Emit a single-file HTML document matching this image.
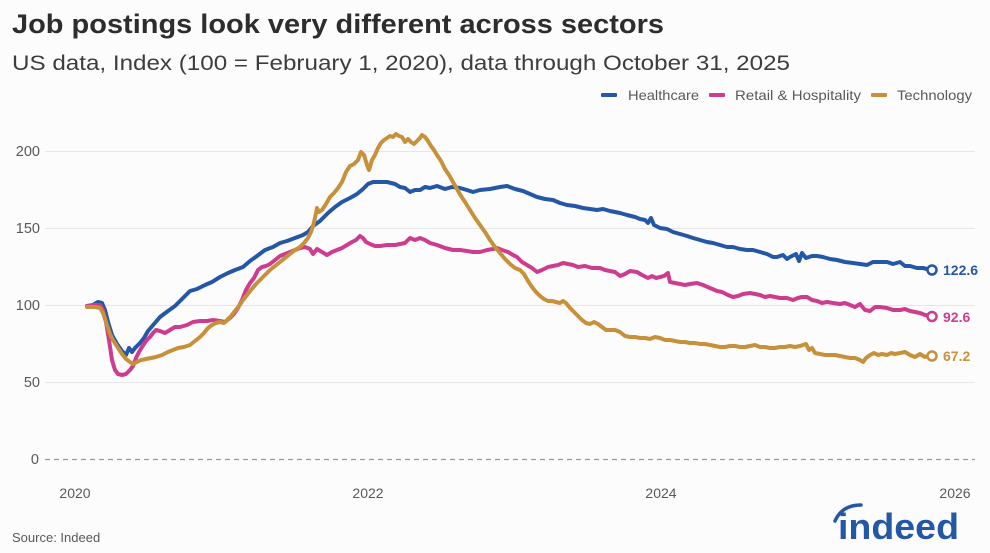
<!DOCTYPE html>
<html><head><meta charset="utf-8"><style>
html,body{margin:0;padding:0;background:#fcfcfc;}
svg{display:block;}
text{font-family:"Liberation Sans",Arial,sans-serif;}
</style></head><body>
<svg width="990" height="553" viewBox="0 0 990 553" xmlns="http://www.w3.org/2000/svg">
<rect width="990" height="553" fill="#fcfcfc"/>
<text x="12" y="33" font-size="27" font-weight="bold" fill="#2d2d2d" textLength="652" lengthAdjust="spacingAndGlyphs">Job postings look very different across sectors</text>
<text x="12" y="70" font-size="21" fill="#3d3d3d" textLength="778" lengthAdjust="spacingAndGlyphs">US data, Index (100 = February 1, 2020), data through October 31, 2025</text>

<!-- legend -->
<rect x="601" y="93" width="16" height="4" rx="1" fill="#2557a7"/>
<text x="628" y="100" font-size="14" fill="#595959" textLength="71" lengthAdjust="spacingAndGlyphs">Healthcare</text>
<rect x="709" y="93" width="16" height="4" rx="1" fill="#cd3d8f"/>
<text x="735" y="100" font-size="14" fill="#595959" textLength="126" lengthAdjust="spacingAndGlyphs">Retail &amp; Hospitality</text>
<rect x="871" y="93" width="16" height="4" rx="1" fill="#c7913b"/>
<text x="897" y="100" font-size="14" fill="#595959" textLength="75" lengthAdjust="spacingAndGlyphs">Technology</text>

<!-- grid -->
<g stroke="#e6e6e6" stroke-width="1">
<line x1="45" y1="151.5" x2="975" y2="151.5"/>
<line x1="45" y1="228.5" x2="975" y2="228.5"/>
<line x1="45" y1="305.5" x2="975" y2="305.5"/>
<line x1="45" y1="382.5" x2="975" y2="382.5"/>
</g>
<line x1="45" y1="459.5" x2="975" y2="459.5" stroke="#9a9a9a" stroke-width="1.2" stroke-dasharray="5 4"/>

<g font-size="14.5" fill="#595959" text-anchor="end">
<text x="40" y="156">200</text>
<text x="40" y="233">150</text>
<text x="40" y="310">100</text>
<text x="40" y="387">50</text>
<text x="39" y="464">0</text>
</g>
<g font-size="14" fill="#595959" text-anchor="middle">
<text x="75" y="498">2020</text>
<text x="368" y="498">2022</text>
<text x="661" y="498">2024</text>
<text x="955" y="498">2026</text>
</g>

<g fill="none" stroke-width="4" stroke-linejoin="round" stroke-linecap="round">
<polyline stroke="#2557a7" points="87,306 93,305 98,302 102,303 105,310 108,322 112,335 117,344 122,351 126,355 129,348 132,352 135,348 140,343 144,338 148,331 154,324 160,317 168,311 175,306 183,298 190,291 197,289 205,285 212,282 220,277 228,273 235,270 243,267 250,261 257,256 265,250 273,247 280,243 287,241 295,238 303,235 308,232 313,226 320,221 328,213 335,207 342,202 350,198 357,194 363,189 368,184 373,182 380,182 387,182 395,184 400,187 405,188 410,192 415,190 420,190 425,187 430,188 437,186 445,189 452,187 460,188 467,190 473,192 480,190 490,189 500,187 507,186 515,189 523,191 530,194 537,197 545,199 553,200 560,203 567,205 575,206 583,208 590,209 597,210 603,209 610,211 620,213 627,215 635,217 640,219 645,220 648,223 651,218 654,225 660,228 667,229 673,232 680,234 687,236 693,238 700,240 707,242 713,243 720,245 727,247 733,247 740,249 747,250 753,250 760,252 767,254 773,257 777,257 783,255 787,259 790,257 796,254 799,261 802,253 806,258 812,256 817,256 823,257 830,259 837,260 845,262 853,263 860,264 867,265 873,262 880,262 887,262 893,264 900,262 905,266 910,266 917,268 923,268 927,269 932,270"/>
<polyline stroke="#cd3d8f" points="87,306 95,305 100,305 103,310 106,322 109,340 112,360 115,370 118,374 122,375 126,374 130,370 133,366 136,358 139,352 142,347 146,341 150,337 153,333 156,330 160,331 165,333 170,330 175,327 180,327 187,325 193,322 200,321 207,321 213,320 220,321 225,322 230,318 234,314 238,308 242,300 246,290 250,283 254,278 258,270 262,267 266,266 270,264 275,260 280,256 285,254 290,252 295,250 300,248 305,247 310,249 313,254 317,249 322,252 327,255 332,252 337,250 342,248 347,245 352,242 356,240 360,236 363,238 366,242 370,244 375,246 380,246 387,245 395,245 400,244 405,243 410,238 415,240 420,238 425,240 430,243 437,245 445,248 453,250 460,250 467,251 473,252 480,252 487,250 493,249 497,248 502,250 508,252 513,255 517,257 522,262 527,265 532,268 537,272 542,270 548,267 553,266 558,265 563,263 568,264 573,265 578,267 585,266 592,268 600,268 605,270 610,271 615,272 620,276 625,274 630,271 637,272 642,275 648,278 652,276 656,278 660,277 664,276 668,273 670,282 675,283 680,284 685,285 690,284 697,283 703,285 710,288 717,291 722,292 728,295 733,297 738,296 743,294 750,293 755,294 760,295 765,297 770,296 775,297 780,298 787,298 793,300 798,298 802,297 807,297 812,300 817,301 822,303 827,302 833,303 840,304 845,303 850,305 855,307 860,304 865,310 870,311 875,307 880,307 887,308 893,310 900,310 905,309 910,311 915,312 920,313 925,315 932,316"/>
<polyline stroke="#c7913b" points="87,307 95,307 100,308 103,313 107,325 110,334 113,340 118,348 122,354 126,359 130,362 133,364 137,362 141,360 146,359 151,358 156,357 162,355 168,352 173,350 178,348 184,347 190,345 195,341 200,337 204,333 208,328 212,325 216,323 220,322 224,323 227,320 231,316 235,311 239,306 243,300 247,295 251,290 256,284 260,280 265,275 270,270 275,266 280,262 285,258 290,254 295,250 300,247 304,243 308,238 311,232 313,226 315,218 317,208 319,212 322,210 326,204 330,197 334,193 338,188 342,182 346,172 350,166 354,164 358,160 361,152 364,155 367,165 369,170 372,160 375,155 378,148 381,143 384,140 387,138 390,136 393,137 396,134 399,136 402,137 405,142 408,139 411,142 414,144 417,141 420,138 422,135 425,137 428,141 431,146 434,150 437,155 441,161 445,169 449,175 453,182 457,189 461,196 465,202 470,210 475,218 480,225 485,232 490,240 495,247 500,253 505,259 510,264 515,268 520,270 524,274 528,281 532,287 536,292 540,296 544,299 548,301 552,301 556,302 560,303 563,301 566,303 570,308 574,312 578,316 582,320 586,323 590,324 594,322 598,324 602,327 606,330 610,330 615,330 620,332 625,336 630,337 635,337 640,338 645,338 650,339 655,337 660,338 665,340 670,340 675,341 680,342 685,342 690,343 695,343 700,344 705,344 710,345 715,346 720,347 725,347 730,346 735,346 740,347 745,347 750,346 755,345 760,347 765,347 770,348 775,348 780,347 785,347 790,346 795,347 800,346 803,345 806,344 809,350 812,348 815,353 820,354 825,355 830,355 835,355 840,356 845,357 850,358 855,358 860,360 863,362 866,358 870,355 874,353 878,355 882,354 887,355 891,353 895,354 900,353 905,352 910,355 915,357 920,354 925,357 928,356 932,356"/>
</g>

<g fill="#fcfcfc" stroke-width="2.5">
<circle cx="932" cy="270" r="4.5" stroke="#2557a7"/>
<circle cx="932" cy="316.5" r="4.5" stroke="#cd3d8f"/>
<circle cx="932" cy="356" r="4.5" stroke="#c7913b"/>
</g>
<g font-size="14" font-weight="bold">
<text x="943" y="275" fill="#2557a7">122.6</text>
<text x="943" y="322" fill="#cd3d8f">92.6</text>
<text x="943" y="361" fill="#c7913b">67.2</text>
</g>

<text x="12" y="542" font-size="13" fill="#595959">Source: Indeed</text>

<!-- indeed logo -->
<path d="M835,521 Q842,505 861,505" fill="none" stroke="#2557a7" stroke-width="3.5" stroke-linecap="round"/>
<text x="838" y="539" font-size="36" font-weight="bold" fill="#2557a7" textLength="121" lengthAdjust="spacingAndGlyphs">indeed</text>
</svg>
</body></html>
